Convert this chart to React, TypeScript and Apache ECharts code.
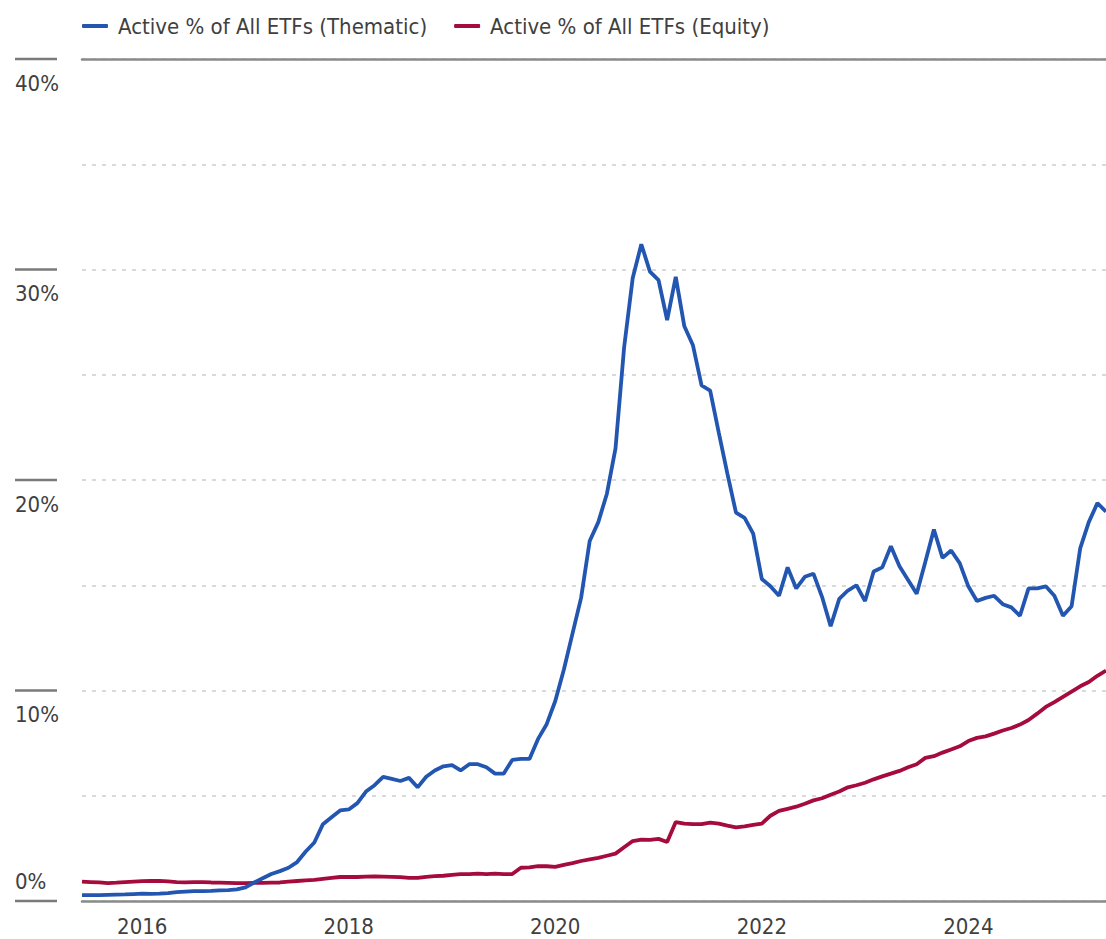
import React, { useEffect, useRef } from "react";
import * as echarts from "echarts";

// Monthly observations from 2015-06 through 2025-05
const START_YEAR = 2015;
const START_MONTH = 6;
const POINTS = 120;

const categories: string[] = [];
for (let k = 0; k < POINTS; k++) {
  const m = START_MONTH - 1 + k;
  const y = START_YEAR + Math.floor(m / 12);
  const mm = (m % 12) + 1;
  categories.push(`${y}-${mm < 10 ? "0" + mm : mm}`);
}

const thematic = [
  0.28, 0.28, 0.28, 0.29, 0.3, 0.31, 0.33, 0.35, 0.34, 0.35,
  0.37, 0.42, 0.45, 0.47, 0.47, 0.48, 0.5, 0.52, 0.55, 0.65,
  0.88, 1.08, 1.28, 1.42, 1.58, 1.85, 2.35, 2.78, 3.65, 3.98,
  4.3, 4.35, 4.65, 5.2, 5.5, 5.9, 5.8, 5.7, 5.85, 5.4,
  5.9, 6.2, 6.4, 6.45, 6.2, 6.5, 6.5, 6.35, 6.05, 6.05,
  6.7, 6.75, 6.75, 7.7, 8.4, 9.5, 11.0, 12.7, 14.4, 17.1,
  18.0, 19.35, 21.5, 26.3, 29.6, 31.2, 29.9, 29.5, 27.6, 29.65,
  27.3, 26.4, 24.5, 24.25, 22.25, 20.3, 18.45, 18.2, 17.45, 15.3,
  14.95, 14.5, 15.85, 14.85, 15.4, 15.55, 14.45, 13.05, 14.35, 14.75,
  15.0, 14.25, 15.65, 15.85, 16.85, 15.9, 15.25, 14.6, 16.1, 17.65,
  16.3, 16.65, 16.05, 14.95, 14.25, 14.4, 14.5, 14.1, 13.95, 13.55,
  14.85, 14.85, 14.95, 14.5, 13.55, 14.0, 16.75, 18.0, 18.9, 18.5,
];

const equity = [
  0.92, 0.9, 0.88, 0.85, 0.87, 0.9, 0.92, 0.94, 0.95, 0.96,
  0.93, 0.9, 0.88, 0.9, 0.9, 0.88, 0.87, 0.86, 0.85, 0.85,
  0.86, 0.86, 0.87, 0.88, 0.92, 0.95, 0.98, 1.0, 1.05, 1.1,
  1.14, 1.15, 1.14, 1.16, 1.17, 1.16, 1.15, 1.13, 1.1, 1.1,
  1.15, 1.18, 1.2, 1.24, 1.28, 1.28, 1.3, 1.28, 1.3, 1.28,
  1.28, 1.58, 1.6, 1.66, 1.65, 1.62, 1.72, 1.8, 1.9, 1.98,
  2.05, 2.15, 2.25, 2.55, 2.85, 2.92, 2.9, 2.95, 2.8, 3.75,
  3.68, 3.65, 3.65, 3.72, 3.68, 3.58, 3.5, 3.55, 3.62, 3.68,
  4.05, 4.28, 4.38, 4.48, 4.62, 4.78, 4.88, 5.05, 5.2, 5.4,
  5.5, 5.62, 5.78, 5.92, 6.05, 6.18, 6.35, 6.5, 6.8, 6.88,
  7.05, 7.2, 7.35, 7.6, 7.75, 7.82, 7.95, 8.1, 8.22, 8.38,
  8.6, 8.9, 9.22, 9.45, 9.7, 9.95, 10.2, 10.4, 10.7, 10.95,
];

const yLabelTicks = [0, 10, 20, 30, 40];
const seriesNames = ["Active % of All ETFs (Thematic)", "Active % of All ETFs (Equity)"];

const FONT = "'Liberation Sans Narrow', 'Arial Narrow', 'DejaVu Sans Condensed', 'Roboto', sans-serif";
const TEXT = "#404040";
const BLUE = "#2256B0";
const RED = "#A50B3C";

export default function App() {
  const ref = useRef<HTMLDivElement>(null);
  useEffect(() => {
    document.body.style.margin = "0";
    document.body.style.overflow = "hidden";
    if (!ref.current) return;
    const chart = echarts.init(ref.current, null, { renderer: "svg" });
    chart.setOption({
      animation: false,
      backgroundColor: "#ffffff",
      legend: {
        left: 77,
        top: 10,
        itemWidth: 26,
        itemHeight: 4,
        itemGap: 27,
        icon: "roundRect",
        textStyle: { fontFamily: FONT, fontSize: 22, color: TEXT, padding: [0, 0, 0, 5] },
        data: seriesNames,
      },
      grid: { left: 82, right: -5, top: 59, bottom: 38, containLabel: false },
      xAxis: [
        {
          type: "category",
          data: categories,
          boundaryGap: false,
          axisLine: { show: true, lineStyle: { color: "#8a8a8a", width: 2.5 } },
          axisTick: { show: false },
          splitLine: { show: false },
          axisLabel: {
            interval: (idx: number, val: string) => {
              const [y, m] = val.split("-");
              return m === "01" && Number(y) % 2 === 0;
            },
            formatter: (val: string) => val.split("-")[0],
            fontFamily: FONT,
            fontSize: 22,
            color: TEXT,
            margin: 14,
          },
        },
        {
          type: "category",
          data: categories,
          boundaryGap: false,
          position: "top",
          axisLine: { show: true, lineStyle: { color: "#8a8a8a", width: 2.5 } },
          axisTick: { show: false },
          axisLabel: { show: false },
          splitLine: { show: false },
        },
      ],
      yAxis: {
        type: "value",
        min: 0,
        max: 40,
        interval: 5,
        axisLine: { show: false },
        axisTick: { show: false },
        axisLabel: { show: false },
        splitLine: { show: true, lineStyle: { color: "#d9d9d9", width: 2, type: [4, 6] } },
      },
      series: [
        {
          name: seriesNames[0],
          type: "line",
          data: thematic,
          showSymbol: false,
          symbol: "none",
          lineStyle: { color: BLUE, width: 3.8 },
          itemStyle: { color: BLUE },
          z: 3,
        },
        {
          name: seriesNames[1],
          type: "line",
          data: equity,
          showSymbol: false,
          symbol: "none",
          lineStyle: { color: RED, width: 3.8 },
          itemStyle: { color: RED },
          z: 2,
        },
      ],
    });

    const elements: any[] = [];
    yLabelTicks.forEach((v) => {
      const py = chart.convertToPixel({ yAxisIndex: 0 }, v) as number;
      elements.push({
        type: "line",
        shape: { x1: 15, y1: py, x2: 57, y2: py },
        style: { stroke: "#7a7a7a", lineWidth: 2.5 },
        silent: true,
      });
      elements.push({
        type: "text",
        x: 15,
        y: v === 0 ? py - 20 : py + 24,
        style: {
          text: `${v}%`,
          fontFamily: FONT,
          fontSize: 22,
          fill: TEXT,
          align: "left",
          verticalAlign: "middle",
        },
        silent: true,
      });
    });
    chart.setOption({ graphic: elements });

    return () => chart.dispose();
  }, []);
  return <div ref={ref} style={{ width: 1106, height: 939, position: "absolute", left: 0, top: 0 }} />;
}
